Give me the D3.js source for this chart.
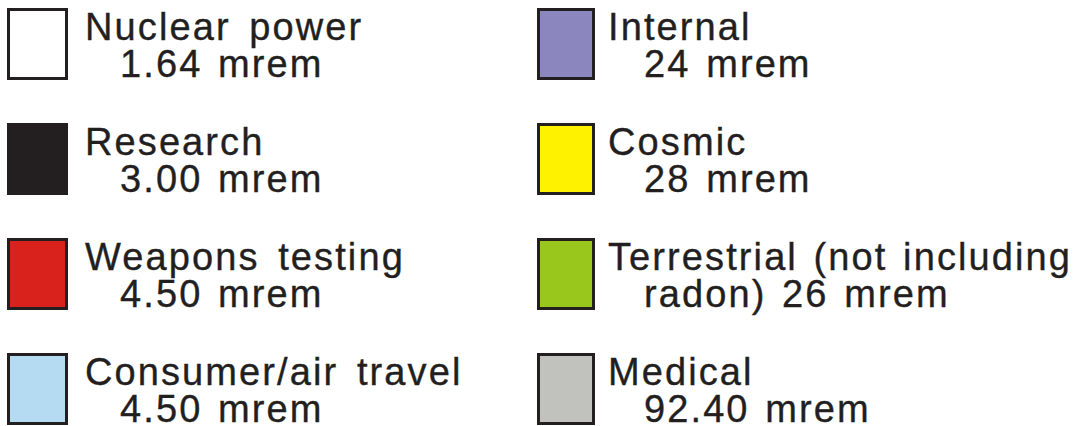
<!DOCTYPE html>
<html><head><meta charset="utf-8">
<script src="https://cdn.jsdelivr.net/npm/d3@7"></script>
<style>
html,body{margin:0;padding:0;background:#fff;}
svg{display:block;}
text{font-family:"Liberation Sans",Arial,sans-serif;fill:#231f20;stroke:#231f20;stroke-width:0.35px;}
</style></head>
<body>
<svg id="chart" width="1081" height="426"></svg>
<script>
// Data
const categories = ["Nuclear power","Research","Weapons testing","Consumer/air travel",
                    "Internal","Cosmic","Terrestrial (not including radon)","Medical"];
const doses = [1.64, 3.00, 4.50, 4.50, 24, 28, 26, 92.40];
const doseLabels = ["1.64","3.00","4.50","4.50","24","28","26","92.40"];
const unit = "mrem";
const colors = ["#ffffff","#231f20","#d8221b","#b5dbf3","#8c86be","#fff200","#99c71b","#c1c1bd"];

// Layout
const svg = d3.select("#chart");
const rowScale = d3.scaleBand().domain([0,1,2,3]).range([8, 468]).paddingInner(0).paddingOuter(0);
const colScale = d3.scaleOrdinal().domain([0,1]).range([7, 537]);
const boxW = [61, 58];
const boxH = 72;

const items = categories.map((c,i)=>{
  let l1 = c, l2pre = "";
  if (c.startsWith("Terrestrial")) { l1 = "Terrestrial (not including"; l2pre = "radon) "; }
  return {name:c, line1:l1, line2: l2pre + doseLabels[i] + " " + unit, color:colors[i],
          col: Math.floor(i/4), row: i%4, value: doses[i]};
});

const g = svg.selectAll("g.item").data(items).join("g").attr("class","item")
  .attr("transform", d=>`translate(${colScale(d.col)},${rowScale(d.row)})`);

g.append("rect")
  .attr("x",1.5).attr("y",1.5)
  .attr("width", d=>boxW[d.col]-3).attr("height", boxH-3)
  .attr("fill", d=>d.color)
  .attr("stroke","#231f20").attr("stroke-width",3);

g.append("text")
  .attr("x", d=> d.col===0 ? 78 : 71)
  .attr("y", 31.5)
  .attr("font-size", 38)
  .attr("letter-spacing", "2.1px")
  .attr("word-spacing", d => d.col===0 ? "6px" : "3px")
  .text(d=>d.line1);

g.append("text")
  .attr("x", d=> d.col===0 ? 113 : 107)
  .attr("y", 69)
  .attr("font-size", 38)
  .attr("letter-spacing", "2.1px")
  .attr("word-spacing", "3px")
  .text(d=>d.line2);
</script>
</body></html>
